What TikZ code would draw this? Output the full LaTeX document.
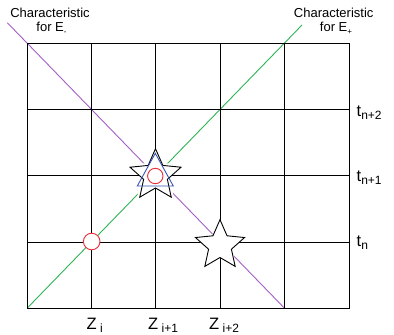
\documentclass[tikz,border=0pt]{standalone}
\usepackage{fontspec}
\setmainfont{Liberation Sans}
\usetikzlibrary{shapes.geometric}
\definecolor{purp}{RGB}{165,95,195}
\definecolor{grn}{RGB}{45,180,85}
\definecolor{tblue}{RGB}{55,85,180}
\definecolor{cred}{RGB}{235,45,55}
\newcommand{\bigf}{\fontsize{16.5}{16.5}\selectfont}
\newcommand{\subf}{\fontsize{12}{12}\selectfont}
\newcommand{\smallsub}[1]{\raisebox{-2.5pt}{\fontsize{8}{8}\selectfont #1}}
\begin{document}
\begin{tikzpicture}[x=1pt,y=-1pt,
  gridline/.style={draw=black,line width=0.9pt},
  diag/.style={line width=0.9pt},
  starbase/.style={star,star points=5,star point ratio=2.15,inner sep=0pt,outer sep=0pt},
  halo/.style={starbase,draw=white,fill=white,line width=5pt},
  starline/.style={starbase,draw=black,fill=white,line width=0.9pt},
  ringred/.style={circle,draw=cred,fill=white,line width=0.9pt,inner sep=0pt},
  tri/.style={draw=tblue,line width=0.9pt},
  charlab/.style={anchor=base,inner sep=0pt,font=\fontsize{13}{13}\selectfont},
  axlab/.style={anchor=base west,inner sep=0pt,font=\bigf}]
\useasboundingbox (0,0) rectangle (394,335);
% characteristics
\coordinate (pA) at (7.3,22.7);
\coordinate (pB) at (284.3,308);
\coordinate (gA) at (27.3,308);
\coordinate (gB) at (302,25);
\draw[diag,draw=purp] (pA) -- (pB);
\draw[diag,draw=grn] (gA) -- (gB);
% white halo around the stars (hides the characteristics only)
\node[halo,minimum size=53.6pt] (h1) at (155.5,175.5) {};
\node[starbase,draw=white,fill=white,line width=2pt,minimum size=51.6pt] (h2) at (220,245.5) {};
% grid
\foreach \x in {91.7,155.7,220,284.3}
  \draw[gridline] (\x,43.3) -- (\x,308);
\foreach \y in {109.3,175.7,242}
  \draw[gridline] (27.3,\y) -- (349,\y);
\draw[gridline] (27.3,43.3) rectangle (349,308);
% stars
\node[starline,minimum size=53.6pt] (s1) at (155.5,175.5) {};
\node[starline,minimum size=51.6pt] (s2) at (220,245.5) {};
% triangle and circles
\coordinate (tA) at (155.3,153.3);
\coordinate (tB) at (137.3,186);
\coordinate (tC) at (173.3,186);
\draw[tri] (tA) -- (tB) -- (tC) -- cycle;
\node[ringred,minimum size=15.4pt] (c2) at (155.3,176) {};
\node[ringred,minimum size=16.6pt] (c1) at (91.7,241.5) {};
% labels
\node[charlab] (cm1) at (50,17.3) {Characteristic};
\node[charlab] (cm2) at (51.5,31.7) {for E\smallsub{-}};
\node[charlab] (cp1) at (333.7,17.3) {Characteristic};
\node[charlab] (cp2) at (336,31.7) {for E\smallsub{+}};
\node[axlab] (t2) at (356.5,116.5) {t\raisebox{-3pt}{\subf n+2}};
\node[axlab] (t1) at (356.5,181.5) {t\raisebox{-3pt}{\subf n+1}};
\node[axlab] (t0) at (356.5,246.5) {t\raisebox{-3pt}{\subf n}};
\node[axlab] (z0) at (86.5,329) {Z\raisebox{-3pt}{\subf\ i}};
\node[axlab] (z1) at (148,329) {Z\raisebox{-3pt}{\subf\ i+1}};
\node[axlab] (z2) at (209,329) {Z\raisebox{-3pt}{\subf\ i+2}};
\end{tikzpicture}
\end{document}
